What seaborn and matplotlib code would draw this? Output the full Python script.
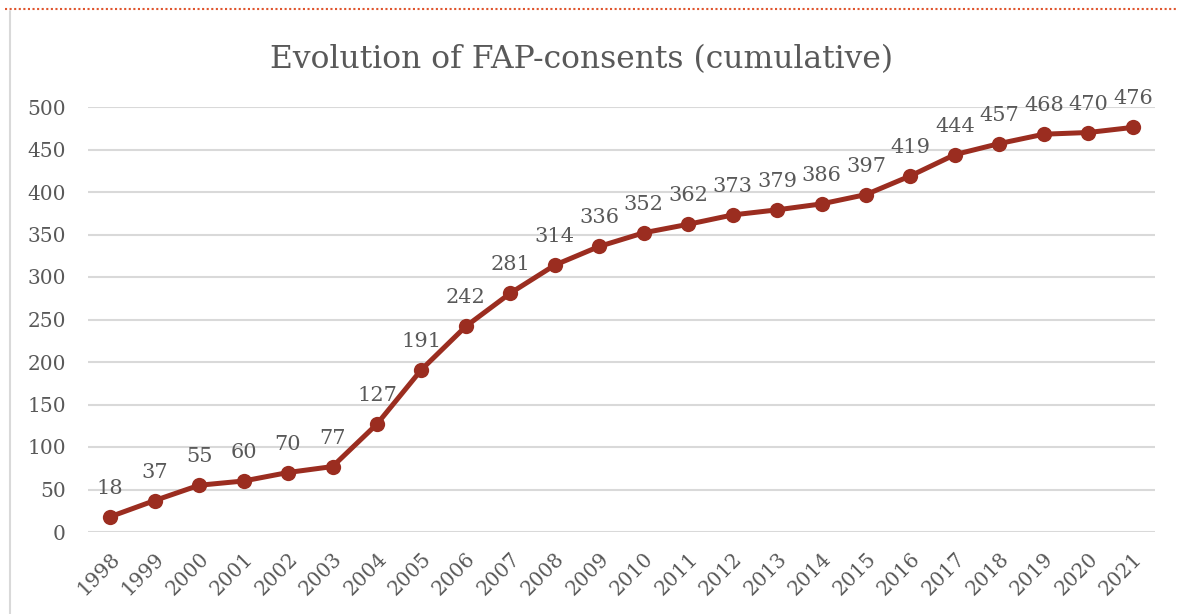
import matplotlib
matplotlib.use("Agg")
import matplotlib.pyplot as plt
import seaborn as sns
import pandas as pd
from matplotlib.lines import Line2D

years = ["1998", "1999", "2000", "2001", "2002", "2003", "2004", "2005", "2006", "2007",
         "2008", "2009", "2010", "2011", "2012", "2013", "2014", "2015", "2016", "2017",
         "2018", "2019", "2020", "2021"]
consents = [18, 37, 55, 60, 70, 77, 127, 191, 242, 281, 314, 336, 352, 362, 373, 379,
            386, 397, 419, 444, 457, 468, 470, 476]
yticks = [0, 50, 100, 150, 200, 250, 300, 350, 400, 450, 500]
title = "Evolution of FAP-consents (cumulative)"

sns.set_theme(style="white")
plt.rcParams['font.family'] = ['DejaVu Serif']

text_col = "#595959"
line_col = "#9B2D20"

df = pd.DataFrame({"year": years, "value": consents})

fig = plt.figure(figsize=(11.77, 6.14), dpi=100)
ax = fig.add_axes([88/1177, 82/614, (1155-88)/1177, (532-107)/614])

sns.lineplot(data=df, x="year", y="value", ax=ax, color=line_col, linewidth=3.6,
             marker="o", markersize=11, markeredgewidth=0, sort=False)

ax.set_xlim(-0.5, len(years) - 0.5)
ax.set_ylim(0, 500)
ax.set_yticks(yticks)
ax.set_yticklabels([str(t) for t in yticks])
ax.yaxis.grid(True, color="#D9D9D9", linewidth=1.5)
ax.xaxis.grid(False)
ax.set_axisbelow(True)
for s in ax.spines.values():
    s.set_visible(False)
ax.set_xlabel("")
ax.set_ylabel("")
ax.tick_params(axis="y", length=0, pad=16, labelsize=14.5, labelcolor=text_col)
ax.tick_params(axis="x", length=0, pad=12, labelsize=14.5, labelcolor=text_col)
for lbl in ax.get_xticklabels():
    lbl.set_rotation(45)
    lbl.set_ha("right")
    lbl.set_va("top")
    lbl.set_rotation_mode("anchor")

for i, v in enumerate(consents):
    ax.annotate(str(v), (i, v), xytext=(0, 16.5), textcoords="offset points",
                ha="center", va="baseline", fontsize=15, color=text_col)

fig.text(582/1177, 1 - 68/614, title, ha="center", va="baseline", fontsize=22.6, color=text_col)

# frame decorations
fig.add_artist(Line2D([5/1177, 1], [1 - 9/614, 1 - 9/614], transform=fig.transFigure,
                      color="#E0552E", linewidth=1.5, linestyle=(0, (1, 1.2))))
fig.add_artist(Line2D([10/1177, 10/1177], [0, 1 - 11/614], transform=fig.transFigure,
                      color="#D9D9D9", linewidth=1.5))

fig.savefig("out.png", dpi=100)
